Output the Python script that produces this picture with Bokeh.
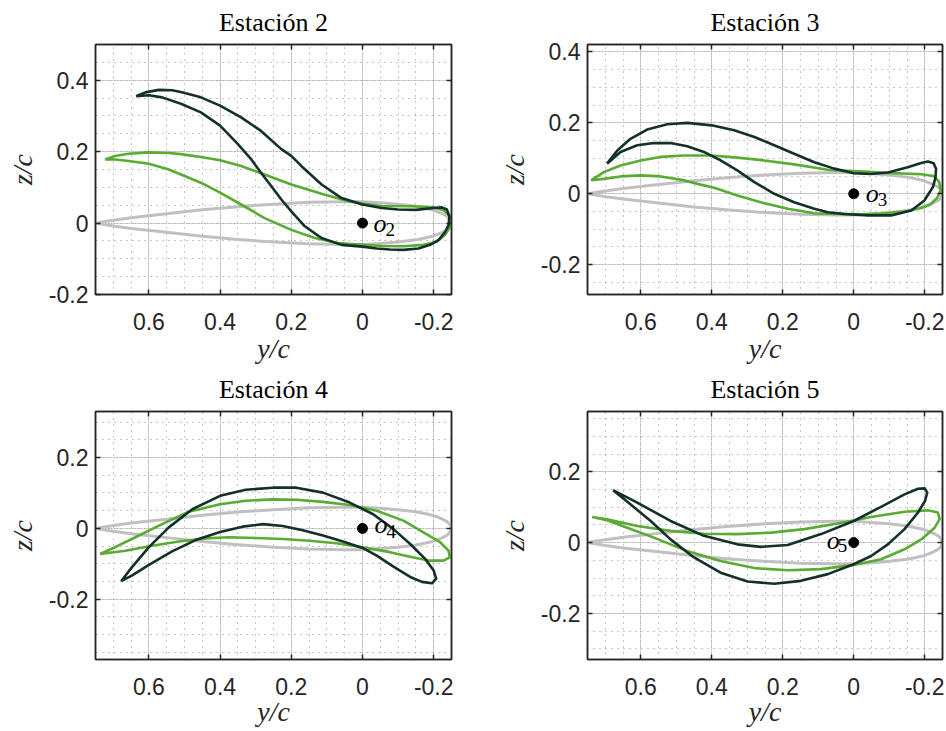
import numpy as np
from bokeh.plotting import figure
from bokeh.layouts import column, row
from bokeh.models import FixedTicker, LinearAxis, Range1d
from bokeh.core.properties import value
from bokeh.embed import file_html
from bokeh.resources import INLINE

# ---------------- data (y/c, z/c) ----------------
TITLES = ["Estación 2", "Estación 3", "Estación 4", "Estación 5"]
SUBS = ["2", "3", "4", "5"]
X_TICKS = [0.6, 0.4, 0.2, 0, -0.2]
X_TICK_LABELS = ["0.6", "0.4", "0.2", "0", "-0.2"]
Y_TICKS_A = [0.4, 0.2, 0, -0.2]
Y_TICK_LABELS_A = ["0.4", "0.2", "0", "-0.2"]
Y_TICKS_B = [0.2, 0, -0.2]
Y_TICK_LABELS_B = ["0.2", "0", "-0.2"]
O_Y = [0.0]
O_Z = [0.0]

# undeformed section (grey)
GREY_Y = [0.75, 0.70, 0.65, 0.55, 0.45, 0.35, 0.25, 0.15, 0.05, 0.00, -0.05, -0.10, -0.15, -0.175, -0.20,
          -0.225, -0.2375, -0.245, -0.25, -0.245, -0.2375, -0.225, -0.20, -0.175, -0.15, -0.10, -0.05,
          0.00, 0.05, 0.15, 0.25, 0.35, 0.45, 0.55, 0.65, 0.70, 0.75]
GREY_Z = [0.0, 0.008, 0.015, 0.026, 0.037, 0.046, 0.053, 0.058, 0.060, 0.060, 0.057, 0.053, 0.047, 0.042,
          0.036, 0.026, 0.019, 0.012, 0.0, -0.012, -0.019, -0.026, -0.036, -0.042, -0.047, -0.053, -0.057,
          -0.060, -0.060, -0.058, -0.053, -0.046, -0.037, -0.026, -0.015, -0.008, 0.0]

# Estación 2
S2_GREEN_Y = [0.723, 0.695, 0.657, 0.60, 0.544, 0.51, 0.454, 0.40, 0.341, 0.275, 0.20, 0.115, 0.04, 0.0,
              -0.054, -0.143, -0.20, -0.228, -0.245, -0.25, -0.247, -0.232, -0.209, -0.171, -0.115, -0.054,
              0.0, 0.069, 0.134, 0.20, 0.275, 0.341, 0.40, 0.454, 0.51, 0.544, 0.60, 0.657, 0.695, 0.723]
S2_GREEN_Z = [0.178, 0.188, 0.194, 0.198, 0.196, 0.193, 0.185, 0.176, 0.16, 0.136, 0.108, 0.082, 0.061, 0.055,
              0.048, 0.047, 0.044, 0.036, 0.02, 0.005, -0.009, -0.033, -0.052, -0.061, -0.065, -0.064,
              -0.061, -0.056, -0.042, -0.019, 0.014, 0.052, 0.085, 0.113, 0.136, 0.150, 0.166, 0.174, 0.178, 0.178]
S2_DARK_Y = [0.636, 0.61, 0.572, 0.535, 0.51, 0.454, 0.40, 0.341, 0.285, 0.228, 0.20, 0.172, 0.115, 0.059, 0.0,
             -0.054, -0.10, -0.15, -0.20, -0.223, -0.237, -0.244, -0.242, -0.232, -0.214, -0.19, -0.157, -0.115,
             -0.077, -0.04, 0.0, 0.059, 0.115, 0.162, 0.20, 0.228, 0.256, 0.285, 0.313, 0.35, 0.40, 0.454, 0.51,
             0.563, 0.60, 0.636]
S2_DARK_Z = [0.355, 0.366, 0.373, 0.372, 0.367, 0.352, 0.329, 0.296, 0.258, 0.207, 0.188, 0.16, 0.108, 0.07, 0.052,
             0.042, 0.038, 0.037, 0.042, 0.044, 0.038, 0.019, -0.005, -0.025, -0.047, -0.061, -0.071, -0.075,
             -0.074, -0.071, -0.066, -0.061, -0.042, -0.009, 0.033, 0.066, 0.103, 0.141, 0.179, 0.221, 0.273, 0.31,
             0.334, 0.352, 0.358, 0.355]

# Estación 3
S3_GREEN_Y = [0.74, 0.704, 0.657, 0.60, 0.544, 0.478, 0.40, 0.328, 0.252, 0.168, 0.073, 0.0, -0.096, -0.19,
              -0.225, -0.24, -0.245, -0.235, -0.215, -0.19, -0.143, -0.077, -0.021, 0.073, 0.111, 0.186, 0.262,
              0.328, 0.393, 0.44, 0.488, 0.544, 0.60, 0.657, 0.704, 0.74]
S3_GREEN_Z = [0.038, 0.061, 0.08, 0.094, 0.104, 0.108, 0.108, 0.102, 0.094, 0.083, 0.068, 0.064, 0.059, 0.055,
              0.05, 0.035, 0.01, -0.012, -0.03, -0.04, -0.05, -0.056, -0.058, -0.056, -0.055, -0.042, -0.024,
              -0.005, 0.017, 0.028, 0.04, 0.049, 0.052, 0.049, 0.042, 0.038]
S3_DARK_Y = [0.695, 0.666, 0.629, 0.582, 0.525, 0.469, 0.40, 0.337, 0.28, 0.224, 0.168, 0.111, 0.055, 0.0, -0.049,
             -0.096, -0.152, -0.19, -0.209, -0.225, -0.232, -0.23, -0.223, -0.199, -0.162, -0.105, -0.04, 0.027,
             0.073, 0.111, 0.168, 0.224, 0.28, 0.328, 0.375, 0.422, 0.469, 0.516, 0.563, 0.61, 0.657, 0.695]
S3_DARK_Z = [0.085, 0.122, 0.155, 0.181, 0.196, 0.20, 0.193, 0.179, 0.16, 0.137, 0.113, 0.089, 0.071, 0.058, 0.056,
             0.06, 0.075, 0.087, 0.091, 0.086, 0.07, 0.045, 0.019, -0.019, -0.047, -0.061, -0.061, -0.057,
             -0.052, -0.042, -0.024, 0.0, 0.033, 0.066, 0.094, 0.118, 0.134, 0.143, 0.143, 0.137, 0.118, 0.085]

# Estación 4
S4_GREEN_Y = [0.737, 0.695, 0.638, 0.563, 0.488, 0.40, 0.328, 0.252, 0.186, 0.111, 0.036, -0.04, -0.115, -0.171,
              -0.218, -0.242, -0.245, -0.228, -0.19, -0.143, -0.077, 0.0, 0.073, 0.149, 0.224, 0.299, 0.375,
              0.44, 0.516, 0.591, 0.666, 0.737]
S4_GREEN_Z = [-0.072, -0.053, -0.025, 0.012, 0.047, 0.068, 0.078, 0.082, 0.081, 0.075, 0.066, 0.05, 0.022, -0.011,
              -0.039, -0.063, -0.082, -0.091, -0.091, -0.082, -0.067, -0.053, -0.042, -0.035, -0.03, -0.027,
              -0.025, -0.028, -0.037, -0.049, -0.063, -0.072]
S4_DARK_Y = [0.678, 0.648, 0.60, 0.544, 0.478, 0.40, 0.328, 0.252, 0.186, 0.111, 0.036, -0.03, -0.087, -0.134,
             -0.176, -0.20, -0.207, -0.195, -0.167, -0.134, -0.087, -0.04, 0.0, 0.055, 0.111, 0.168, 0.224, 0.28,
             0.337, 0.40, 0.469, 0.535, 0.60, 0.648, 0.678]
S4_DARK_Z = [-0.149, -0.11, -0.053, 0.003, 0.054, 0.092, 0.109, 0.115, 0.115, 0.101, 0.073, 0.04, -0.002, -0.044,
             -0.086, -0.119, -0.142, -0.155, -0.151, -0.137, -0.108, -0.077, -0.055, -0.037, -0.02, -0.005, 0.007,
             0.012, 0.005, -0.01, -0.033, -0.065, -0.103, -0.133, -0.149]

# Estación 5
S5_GREEN_Y = [0.737, 0.695, 0.61, 0.516, 0.422, 0.328, 0.233, 0.139, 0.045, -0.049, -0.143, -0.209, -0.237,
              -0.242, -0.228, -0.19, -0.143, -0.077, 0.0, 0.092, 0.186, 0.28, 0.375, 0.469, 0.563, 0.638, 0.695,
              0.737]
S5_GREEN_Z = [0.072, 0.066, 0.047, 0.033, 0.025, 0.024, 0.028, 0.038, 0.054, 0.072, 0.087, 0.091, 0.085, 0.066,
              0.042, 0.009, -0.019, -0.047, -0.063, -0.075, -0.078, -0.072, -0.052, -0.024, 0.014, 0.042, 0.063,
              0.072]
S5_DARK_Y = [0.678, 0.61, 0.516, 0.422, 0.328, 0.262, 0.186, 0.092, 0.0, -0.077, -0.143, -0.181, -0.20, -0.207,
             -0.201, -0.181, -0.143, -0.096, -0.049, 0.0, 0.073, 0.149, 0.224, 0.299, 0.375, 0.45, 0.516, 0.572,
             0.629, 0.678]
S5_DARK_Z = [0.148, 0.113, 0.061, 0.019, -0.005, -0.012, -0.007, 0.024, 0.061, 0.101, 0.136, 0.152, 0.153, 0.141,
             0.118, 0.085, 0.038, -0.005, -0.038, -0.061, -0.089, -0.108, -0.116, -0.11, -0.085, -0.042, 0.009,
             0.061, 0.108, 0.148]

Y_RANGES = [(-0.2, 0.5), (-0.284, 0.421), (-0.37, 0.33), (-0.33, 0.37)]

GREY = "#c0c0c0"
GREEN = "#5aab32"
DARK = "#13302a"
AX = "#262626"


def minor(lo, hi):
    a = np.arange(np.ceil(min(lo, hi) / 0.05 - 1e-9), np.floor(max(lo, hi) / 0.05 + 1e-9) + 1)
    return [round(float(v) * 0.05, 4) for v in a]


def style_axis(ax, ticker, labels, show_labels):
    ax.ticker = ticker
    ax.axis_line_color = AX
    ax.axis_line_width = 1.5
    ax.major_tick_line_color = AX
    ax.major_tick_line_width = 1.5
    ax.major_tick_in = 5
    ax.major_tick_out = 0
    ax.minor_tick_line_color = None
    if show_labels:
        ax.major_label_overrides = labels
        ax.major_label_text_font = "Liberation Sans"
        ax.major_label_text_font_size = "23px"
        ax.major_label_text_color = AX
    else:
        ax.major_label_text_font_size = "1px"
        ax.major_label_text_color = None
        ax.major_label_standoff = 0


def panel(i, gy, gz, dy, dz, yticks, ylabels, width, height, bl, br, bt, bb,
          xlab_standoff, lab_dx, lab_dy, sub_dx, sub_dy):
    yr = Y_RANGES[i]
    p = figure(width=width, height=height, x_range=Range1d(0.75, -0.25), y_range=Range1d(*yr),
               output_backend="svg", toolbar_location=None, title=TITLES[i],
               min_border_left=bl, min_border_right=br, min_border_top=bt, min_border_bottom=bb)
    p.background_fill_color = "white"
    p.border_fill_color = "white"
    p.outline_line_color = AX
    p.outline_line_width = 1.5

    p.title.text_font = "Liberation Serif"
    p.title.text_font_size = "26px"
    p.title.text_font_style = "normal"
    p.title.text_color = "black"
    p.title.align = "center"
    p.title.standoff = 8

    xt = FixedTicker(ticks=X_TICKS, minor_ticks=minor(-0.25, 0.75))
    yt = FixedTicker(ticks=yticks, minor_ticks=minor(yr[0], yr[1]))
    xlab = dict(zip(X_TICKS, X_TICK_LABELS))
    ylab = dict(zip(yticks, ylabels))

    style_axis(p.xaxis[0], xt, xlab, True)
    style_axis(p.yaxis[0], yt, ylab, True)
    p.xaxis[0].major_label_standoff = 14
    p.yaxis[0].major_label_standoff = 3
    for ax, lbl in ((p.xaxis[0], "y/c"), (p.yaxis[0], "z/c")):
        ax.axis_label = lbl
        ax.axis_label_text_font = "Liberation Serif"
        ax.axis_label_text_font_style = "italic"
        ax.axis_label_text_font_size = "28px"
        ax.axis_label_text_color = AX
    p.xaxis[0].axis_label_standoff = xlab_standoff
    p.yaxis[0].axis_label_standoff = 8

    top = LinearAxis()
    style_axis(top, xt, None, False)
    p.add_layout(top, "above")
    right = LinearAxis()
    style_axis(right, yt, None, False)
    p.add_layout(right, "right")

    for g, t in ((p.xgrid[0], xt), (p.ygrid[0], yt)):
        g.ticker = t
        g.grid_line_color = "#b4b4b4"
        g.grid_line_dash = "2 1"
        g.grid_line_width = 1
        g.minor_grid_line_color = "#8f8f8f"
        g.minor_grid_line_dash = "1 5"
        g.minor_grid_line_width = 1

    p.line(GREY_Y, GREY_Z, line_color=GREY, line_width=3, line_join="round")
    p.line(gy, gz, line_color=GREEN, line_width=2.6, line_join="round")
    p.line(dy, dz, line_color=DARK, line_width=2.6, line_join="round")
    p.scatter(O_Y, O_Z, size=10, color="black")
    p.text(O_Y, O_Z, text=["o"], x_offset=lab_dx, y_offset=lab_dy,
           text_font=value("Liberation Serif"), text_font_style="italic", text_font_size="26px",
           text_baseline="alphabetic", text_align="left", text_color="black")
    p.text(O_Y, O_Z, text=[SUBS[i]], x_offset=sub_dx, y_offset=sub_dy,
           text_font=value("Liberation Serif"), text_font_size="19px",
           text_baseline="alphabetic", text_align="left", text_color="black")
    return p


# row 1: frames at y 44..294 ; row 2: frames at y 409..659
p1 = panel(0, S2_GREEN_Y, S2_GREEN_Z, S2_DARK_Y, S2_DARK_Z, Y_TICKS_A, Y_TICK_LABELS_A,
           470, 368, 95, 19, 44, 74, 0, 11, 0, 23, 6)
p2 = panel(1, S3_GREEN_Y, S3_GREEN_Z, S3_DARK_Y, S3_DARK_Z, Y_TICKS_A, Y_TICK_LABELS_A,
           476, 368, 117, 4, 44, 74, 0, 12, 0, 24, 6)
p3 = panel(2, S4_GREEN_Y, S4_GREEN_Z, S4_DARK_Y, S4_DARK_Z, Y_TICKS_B, Y_TICK_LABELS_B,
           470, 363, 95, 19, 41, 72, -2, 12, -4, 24, 3)
p4 = panel(3, S5_GREEN_Y, S5_GREEN_Z, S5_DARK_Y, S5_DARK_Z, Y_TICKS_B, Y_TICK_LABELS_B,
           476, 363, 117, 4, 41, 72, -2, -27, -2, -16, 3)

layout = column(row(p1, p2), row(p3, p4))
open("out.html", "w").write(file_html(layout, INLINE))
